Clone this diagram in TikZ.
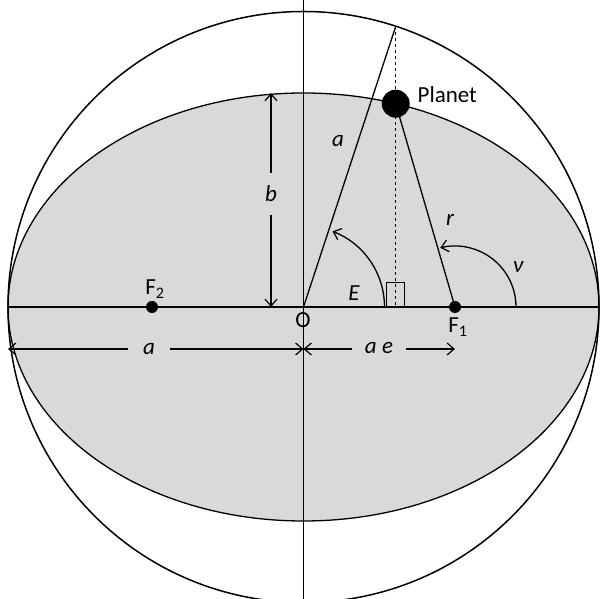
\documentclass[tikz,border=0pt]{standalone}
\usepackage{fontspec}
\setmainfont{Carlito}
\usetikzlibrary{arrows.meta,calc}
\definecolor{ellgray}{HTML}{D9D9D9}
\begin{document}
\begin{tikzpicture}[x=1pt,y=1pt,line width=1.3pt,
  lbl/.style={font=\fontsize{23}{26}\selectfont,inner sep=0pt},
  ilbl/.style={font=\fontsize{23}{26}\selectfont\itshape,inner sep=0pt},
  dimarrow/.style={-{Straight Barb[length=7pt,width=12pt,line width=1.2pt]}},
  dot/.style={circle,fill=black,inner sep=0pt,minimum size=#1}]
\useasboundingbox (0,0) rectangle (600,599);
\clip (0,0) rectangle (600,599);
\coordinate (O) at (303.5,292);
\fill[ellgray] (O) ellipse [x radius=295.5, y radius=214];
\draw (O) ellipse [x radius=295.5, y radius=214];
\draw[line width=1.5pt] (O) circle [radius=295.5];
% axes
\coordinate (L) at (8,292);
\coordinate (R) at (599,292);
\coordinate (T) at (303.5,600);
\coordinate (B) at (303.5,-1);
\draw (L) -- (R);
\draw (T) -- (B);
% points
\coordinate (Q) at (395.7,572.5);
\coordinate (D) at (395.7,292);
\node[dot=12pt] (F1) at (455,292) {};
\node[dot=12pt] (F2) at (152,292) {};
\node[dot=28pt] (P) at (395.7,495.3) {};
\draw (O) -- (Q);
\draw[dashed,line width=1pt] (Q) -- (D);
\draw[line width=1pt] (386.5,292) rectangle (404.5,316);
\draw (P.center) -- (F1.center);
% angles
\draw[dimarrow] ($(O)+(81,0)$) arc[start angle=0,end angle=69,radius=81];
\draw[dimarrow] ($(F1.center)+(61,0)$) arc[start angle=0,end angle=104,radius=61];
% labels
\node[lbl,anchor=west] (planetlbl) at (417,504) {Planet};
\node[ilbl] (alab2) at (338,458) {a};
\node[ilbl] (Elab) at (354,306) {E};
\node[ilbl] (rlab) at (450,379) {r};
\node[ilbl] (nulab) at (518,332) {ν};
\node[lbl] (Olab) at (303,279) {O};
\node[lbl] (F1lab) at (458,272) {F\textsubscript{1}};
\node[lbl] (F2lab) at (155,310) {F\textsubscript{2}};
% b dimension
\coordinate (bB) at (271,292);
\coordinate (bT) at (271,506);
\node[ilbl,inner ysep=12pt] (blab) at (271,405) {b};
\draw[dimarrow] (blab.south) -- (bB);
\draw[dimarrow] (blab.north) -- (bT);
% a dimension
\coordinate (aL) at (8,250);
\coordinate (aR) at (303.5,250);
\node[ilbl,inner xsep=14pt] (alab) at (149,250) {a};
\draw[dimarrow] (alab.west) -- (aL);
\draw[dimarrow] (alab.east) -- (aR);
% ae dimension
\coordinate (eR) at (455,250);
\node[ilbl,inner xsep=12pt] (aelab) at (379,251) {a e};
\draw[dimarrow] (aelab.west |- aR) -- (aR);
\draw[dimarrow] (aelab.east |- eR) -- (eR);
\end{tikzpicture}
\end{document}
